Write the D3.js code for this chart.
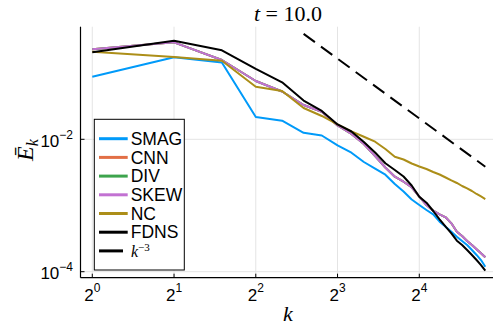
<!DOCTYPE html>
<html><head><meta charset="utf-8">
<script src="https://cdn.jsdelivr.net/npm/d3@7"></script>
<style>body{margin:0;background:#fff}svg{display:block}</style>
</head><body><svg id="c" width="493" height="326"></svg>
<script>
const ks = d3.range(1, 29);
const SMAG = [0.0882,0.1733,0.1445,0.02173,0.0191,0.01253,0.01141,0.00812,0.00627,0.00454,0.00360,0.00292,0.00211,0.001627,0.001233,0.001018,0.000855,0.000736,0.000569,0.000479,0.000402,0.000338,0.000291,0.000253,0.000213,0.000179,0.000150,0.000119];
const SKEW = [0.2288,0.2917,0.1578,0.0760,0.0527,0.03296,0.02612,0.01616,0.01202,0.00849,0.00559,0.00375,0.002723,0.002288,0.001884,0.001358,0.001018,0.000835,0.000736,0.000664,0.000538,0.000402,0.000346,0.000291,0.000253,0.000218,0.000190,0.000165];
const CNN = [0.2288,0.2917,0.1578,0.0760,0.0527,0.03296,0.02612,0.01616,0.01202,0.00849,0.00559,0.00375,0.002723,0.002288,0.001884,0.001358,0.001018,0.000835,0.000736,0.000664,0.000538,0.000402,0.000346,0.000291,0.000253,0.000218,0.000190,0.000165];
const DIV = [0.2288,0.2917,0.1578,0.0760,0.0527,0.03296,0.02612,0.01616,0.01202,0.00849,0.00559,0.00375,0.002723,0.002288,0.001884,0.001358,0.001018,0.000835,0.000736,0.000664,0.000538,0.000402,0.000346,0.000291,0.000253,0.000218,0.000190,0.000165];
const NC = [0.2104,0.175,0.1538,0.0623,0.0537,0.0297,0.0225,0.01675,0.0132,0.01094,0.0092,0.00714,0.00546,0.00495,0.00431,0.00388,0.00356,0.00321,0.00294,0.00265,0.00239,0.00219,0.00197,0.00181,0.001656,0.001493,0.001368,0.001253];
const FDNS = [0.206,0.308,0.221,0.116,0.0726,0.0385,0.0268,0.01675,0.01312,0.0091,0.00632,0.00434,0.00344,0.00274,0.002005,0.001358,0.001102,0.000826,0.000619,0.000479,0.00038,0.000294,0.000253,0.000213,0.000179,0.00015,0.000126,0.0001035];
const refK = [6, 28];
const refV = [0.391, 0.00385];
const seriesNames = ["SMAG","CNN","DIV","SKEW","NC","FDNS"];
const seriesColors = ["#009af9","#e26f46","#3da44d","#c271d2","#ac8e18","#000000"];
const xTicks = [1,2,4,8,16];
const xTickExp = ["0","1","2","3","4"];
const yTicks = [1e-2,1e-4];
const yTickExp = ["\u22122","\u22124"];

const svg = d3.select("#c");
const L = 80.5, R = 497, T = 26.7, B = 277.7;
const x = d3.scaleLog().base(2).domain([Math.pow(2,-0.1443), Math.pow(2,4.9505)]).range([L, R]);
const y = d3.scaleLog().domain([Math.pow(10,-4.0906), Math.pow(10,-0.299)]).range([B, T]);

svg.append("defs").append("clipPath").attr("id","clip").append("rect")
  .attr("x",L).attr("y",T).attr("width",R-L).attr("height",B-T);

// grid
const g = svg.append("g");
g.selectAll(".gx").data(xTicks).enter().append("line")
  .attr("x1",d=>x(d)).attr("x2",d=>x(d)).attr("y1",T).attr("y2",B)
  .attr("stroke","#e4e4e4").attr("stroke-width",1);
g.selectAll(".gy").data(yTicks).enter().append("line")
  .attr("x1",L).attr("x2",R).attr("y1",d=>y(d)).attr("y2",d=>y(d))
  .attr("stroke","#e4e4e4").attr("stroke-width",1);

// series
const data = [SMAG,CNN,DIV,SKEW,NC,FDNS];
const line = d3.line().x((d,i)=>x(ks[i])).y(d=>y(d));
const pg = svg.append("g").attr("clip-path","url(#clip)");
data.forEach((s,i)=>{
  pg.append("path").attr("d",line(s)).attr("fill","none")
    .attr("stroke",seriesColors[i]).attr("stroke-width",2).attr("stroke-linejoin","round");
});
pg.append("path").attr("d", d3.line().x((d,i)=>x(refK[i])).y(d=>y(d))(refV))
  .attr("fill","none").attr("stroke","#000").attr("stroke-width",2).attr("stroke-dasharray","14,7.5");

// axes
svg.append("line").attr("x1",L).attr("x2",L).attr("y1",T).attr("y2",B).attr("stroke","#000").attr("stroke-width",1.2);
svg.append("line").attr("x1",L).attr("x2",493).attr("y1",B).attr("y2",B).attr("stroke","#000").attr("stroke-width",1.2);
xTicks.forEach((t,i)=>{
  svg.append("line").attr("x1",x(t)).attr("x2",x(t)).attr("y1",B).attr("y2",B-4).attr("stroke","#000");
  const tx = svg.append("text").attr("x",x(t)).attr("y",300.7).attr("text-anchor","middle")
    .attr("font-family","Liberation Sans, Arial, sans-serif").attr("font-size",17);
  tx.append("tspan").text("2");
  tx.append("tspan").attr("dy",-9).attr("font-size",12).text(xTickExp[i]);
});
yTicks.forEach((t,i)=>{
  svg.append("line").attr("x1",L).attr("x2",L+4).attr("y1",y(t)).attr("y2",y(t)).attr("stroke","#000");
  const ty = svg.append("text").attr("x",73).attr("y",y(t)+7.5).attr("text-anchor","end")
    .attr("font-family","Liberation Sans, Arial, sans-serif").attr("font-size",17);
  ty.append("tspan").text("10");
  ty.append("tspan").attr("dy",-8).attr("font-size",12).text(yTickExp[i]);
});

// title
const tt = svg.append("text").attr("x",288).attr("y",20.7).attr("text-anchor","middle")
  .attr("font-family","Liberation Serif, Times New Roman, serif").attr("font-size",22);
tt.append("tspan").attr("font-style","italic").text("t");
tt.append("tspan").text(" = 10.0");

// x label
svg.append("text").attr("x",288).attr("y",321).attr("text-anchor","middle")
  .attr("font-family","Liberation Serif, Times New Roman, serif").attr("font-style","italic").attr("font-size",22).text("k");

// y label
const yl = svg.append("text").attr("transform","translate(33,150) rotate(-90)").attr("text-anchor","middle")
  .attr("font-family","Liberation Serif, Times New Roman, serif").attr("font-style","italic").attr("font-size",24);
yl.append("tspan").text("\u0112");
yl.append("tspan").attr("dy",5).attr("font-size",16).text("k");

// legend
const lg = svg.append("g");
lg.append("rect").attr("x",94.3).attr("y",119.3).attr("width",90).attr("height",150.7)
  .attr("fill","#fff").attr("stroke","#000").attr("stroke-width",1);
const legNames = seriesNames.concat(["k"]);
const legColors = seriesColors.concat(["#000"]);
legNames.forEach((n,i)=>{
  const cy = 138.7 + 18.7*i;
  lg.append("line").attr("x1",99).attr("x2", i===6 ? 123 : 127.7).attr("y1",cy).attr("y2",cy)
    .attr("stroke",legColors[i]).attr("stroke-width",3);
  if (i<6) {
    lg.append("text").attr("x",130.7).attr("y",cy+6.2).attr("font-family","Liberation Sans, Arial, sans-serif")
      .attr("font-size",17.5).text(n);
  } else {
    const t = lg.append("text").attr("x",131).attr("y",cy+6.5).attr("font-family","Liberation Serif, Times New Roman, serif")
      .attr("font-size",16);
    t.append("tspan").attr("font-style","italic").text("k");
    t.append("tspan").attr("dy",-6).attr("font-size",11).text("\u22123");
  }
});
</script></body></html>
